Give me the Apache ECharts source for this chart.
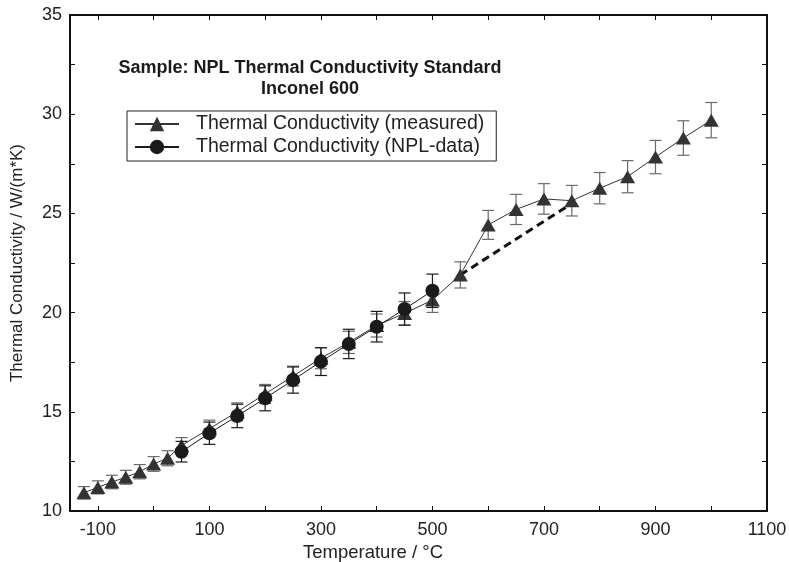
<!DOCTYPE html>
<html>
<head>
<meta charset="utf-8">
<script src="https://cdn.jsdelivr.net/npm/echarts@6/dist/echarts.min.js"></script>
<style>
html,body{margin:0;padding:0;background:#fff;}
#chart{width:789px;height:562px;}
</style>
</head>
<body>
<div id="chart"></div>
<script>
// ---- data ----
const measuredTemps = [-125,-100,-75,-50,-25,0,25,50,100,150,200,250,300,350,400,450,500,550,600,650,700,750,800,850,900,950,1000];
const measuredValues = [10.92,11.19,11.46,11.70,11.98,12.37,12.66,13.3,14.15,15.0,15.9,16.8,17.7,18.5,19.35,19.96,20.63,21.9,24.42,25.2,25.73,25.64,26.27,26.85,27.84,28.8,29.7];
const measuredErr = [0.31,0.33,0.34,0.35,0.36,0.37,0.38,0.40,0.43,0.45,0.48,0.50,0.53,0.56,0.58,0.60,0.62,0.66,0.73,0.76,0.77,0.77,0.79,0.81,0.84,0.87,0.89];
const nplTemps = [50,100,150,200,250,300,350,400,450,500];
const nplValues = [12.99,13.92,14.79,15.68,16.60,17.53,18.42,19.29,20.18,21.10];
const nplErr = [0.52,0.56,0.59,0.63,0.66,0.70,0.74,0.77,0.81,0.84];
const dashTemps = [550,750];
const dashValues = [21.9,25.5];
const xTicks = [-100,0,100,200,300,400,500,600,700,800,900,1000,1100];
const xLabels = [-100,100,300,500,700,900,1100];
const seriesNames = ['Thermal Conductivity (measured)','Thermal Conductivity (NPL-data)'];
const titleLines = ['Sample: NPL Thermal Conductivity Standard','Inconel 600'];
const xName = 'Temperature / °C';
const yName = 'Thermal Conductivity / W/(m*K)';

// ---- build ----
const FONT = '"Liberation Sans", Arial, sans-serif';
const zip = (a,b) => a.map((v,i)=>[v,b[i]]);
const errData = (t,v,e) => t.map((x,i)=>[x, v[i]-e[i], v[i]+e[i]]);

function errRender(color){
  return function(params, api){
    const x = api.value(0);
    const p1 = api.coord([x, api.value(1)]);
    const p2 = api.coord([x, api.value(2)]);
    const w = 6;
    const st = {stroke: color, lineWidth: 1.2};
    return {type:'group', children:[
      {type:'line', shape:{x1:p1[0],y1:p1[1],x2:p2[0],y2:p2[1]}, style:st},
      {type:'line', shape:{x1:p1[0]-w,y1:p1[1],x2:p1[0]+w,y2:p1[1]}, style:st},
      {type:'line', shape:{x1:p2[0]-w,y1:p2[1],x2:p2[0]+w,y2:p2[1]}, style:st}
    ]};
  };
}

const axisLineStyle = {color:'#111', width:2};
const tickStyle = {color:'#111', width:1};

const chart = echarts.init(document.getElementById('chart'), null, {renderer:'canvas'});
chart.setOption({
  animation:false,
  backgroundColor:'#fff',
  grid:{left:70, right:22, top:15, bottom:51, containLabel:false, outerBoundsMode:'none'},
  graphic:[
    {type:'text', x:310, y:68, style:{text:titleLines[0], textAlign:'center', textVerticalAlign:'middle', font:'bold 18px ' + FONT, fill:'#1a1a1a'}},
    {type:'text', x:310, y:89, style:{text:titleLines[1], textAlign:'center', textVerticalAlign:'middle', font:'bold 18px ' + FONT, fill:'#1a1a1a'}},
    {type:'text', x:373, y:553, style:{text:xName, textAlign:'center', textVerticalAlign:'middle', font:'18.5px ' + FONT, fill:'#222'}}
  ],
  legend:{
    show:true, orient:'vertical', left:127, top:111,
    backgroundColor:'#fff',
    borderColor:'#222', borderWidth:1, borderRadius:0,
    padding:[3,12,4,7], itemGap:3, itemWidth:44, itemHeight:18,
    textStyle:{fontSize:19.5, fontFamily:FONT, color:'#222', padding:[0,0,0,12]},
    data:[
      {name:seriesNames[0]},
      {name:seriesNames[1], lineStyle:{width:2}}
    ]
  },
  xAxis:[
    {type:'value', min:-150, max:1100, position:'bottom',
     axisLine:{show:true, onZero:false, lineStyle:axisLineStyle},
     axisTick:{show:true, inside:true, length:5, customValues:xTicks, lineStyle:tickStyle},
     axisLabel:{customValues:xLabels, fontSize:18, fontFamily:FONT, color:'#222', margin:10,
       formatter:v => String(v)},
     splitLine:{show:false}},
    {type:'value', min:-150, max:1100, position:'top',
     axisLine:{show:true, onZero:false, lineStyle:axisLineStyle},
     axisTick:{show:true, inside:true, length:5, customValues:xTicks, lineStyle:tickStyle},
     axisLabel:{show:false}, splitLine:{show:false}}
  ],
  yAxis:[
    {type:'value', min:10, max:35, interval:2.5, position:'left',
     name:yName, nameLocation:'middle', nameGap:44,
     nameTextStyle:{fontSize:17, fontFamily:FONT, color:'#222'},
     axisLine:{show:true, onZero:false, lineStyle:axisLineStyle},
     axisTick:{show:true, inside:true, length:5, lineStyle:tickStyle},
     axisLabel:{fontSize:18, fontFamily:FONT, color:'#222', margin:8,
       formatter:v => (v % 5 === 0 ? String(v) : '')},
     splitLine:{show:false}},
    {type:'value', min:10, max:35, interval:2.5, position:'right',
     axisLine:{show:true, onZero:false, lineStyle:axisLineStyle},
     axisTick:{show:true, inside:true, length:5, lineStyle:tickStyle},
     axisLabel:{show:false}, splitLine:{show:false}}
  ],
  series:[
    {type:'custom', name:'err-measured', renderItem:errRender('#6a6a6a'),
     data:errData(measuredTemps, measuredValues, measuredErr), encode:{x:0, y:[1,2]}, z:1, silent:true},
    {type:'custom', name:'err-npl', renderItem:errRender('#1a1a1a'),
     data:errData(nplTemps, nplValues, nplErr), encode:{x:0, y:[1,2]}, z:3, silent:true},
    {type:'line', name:'dash', data:zip(dashTemps, dashValues), showSymbol:false, symbol:'none',
     lineStyle:{color:'#111', width:3, type:[8,5]}, z:2},
    {type:'line', name:seriesNames[0], data:zip(measuredTemps, measuredValues),
     symbol:'triangle', symbolSize:[15,13], showAllSymbol:true,
     itemStyle:{color:'#333'}, lineStyle:{color:'#333', width:1}, z:2},
    {type:'line', name:seriesNames[1], data:zip(nplTemps, nplValues),
     symbol:'circle', symbolSize:14, showAllSymbol:true,
     itemStyle:{color:'#1a1a1a'}, lineStyle:{color:'#1a1a1a', width:1}, z:4}
  ]
});
</script>
</body>
</html>
